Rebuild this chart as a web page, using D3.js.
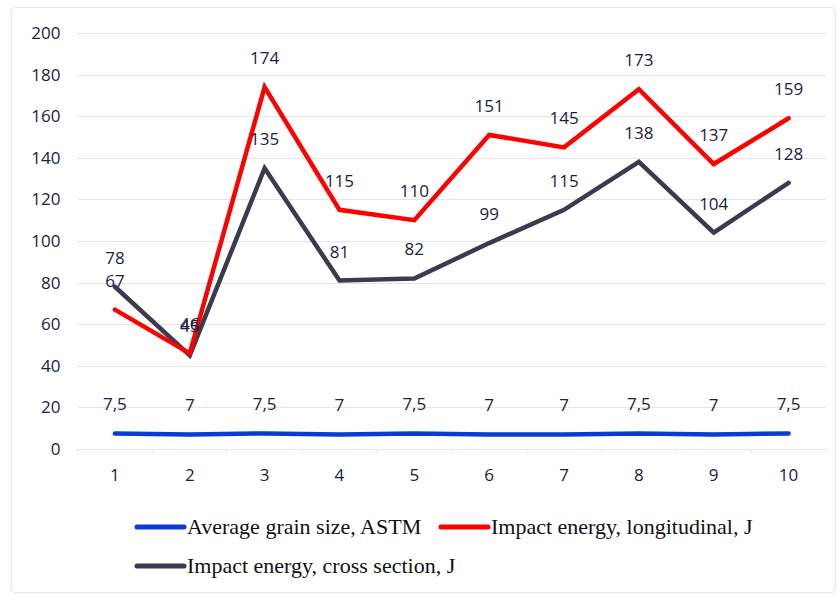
<!DOCTYPE html>
<html>
<head>
<meta charset="utf-8">
<script src="https://cdn.jsdelivr.net/npm/d3@7"></script>
<style>
  html, body { margin: 0; padding: 0; background: #ffffff; }
  svg { display: block; }
</style>
</head>
<body>
<svg id="chart" width="839" height="595"></svg>
<script>
const categories = ["1", "2", "3", "4", "5", "6", "7", "8", "9", "10"];
const grainSize = [7.5, 7, 7.5, 7, 7.5, 7, 7, 7.5, 7, 7.5];
const impactLongitudinal = [67, 46, 174, 115, 110, 151, 145, 173, 137, 159];
const impactCross = [78, 45, 135, 81, 82, 99, 115, 138, 104, 128];
const yTicks = [0, 20, 40, 60, 80, 100, 120, 140, 160, 180, 200];

const seriesNames = ["Average grain size, ASTM", "Impact energy, longitudinal, J", "Impact energy, cross section, J"];
const seriesColors = ["#0a3bd6", "#ff0000", "#3b3b4e"];

const series = [
  { name: seriesNames[0], values: grainSize, color: seriesColors[0] },
  { name: seriesNames[1], values: impactLongitudinal, color: seriesColors[1] },
  { name: seriesNames[2], values: impactCross, color: seriesColors[2] }
];

const svg = d3.select("#chart");
const sans = "'Open Sans', 'Noto Sans', sans-serif";
const labelColor = "#1b2142";

// chart frame
svg.append("rect")
  .attr("x", 11.5).attr("y", 7.5)
  .attr("width", 824).attr("height", 585)
  .attr("rx", 4)
  .attr("fill", "#ffffff")
  .attr("stroke", "#e3e6ee")
  .attr("stroke-width", 1);

const plot = { left: 77.5, right: 826, top: 33, bottom: 449 };

const x = d3.scaleBand().domain(categories).range([plot.left, plot.right]);
const y = d3.scaleLinear().domain([0, 200]).range([plot.bottom, plot.top]);
const cx = c => x(c) + x.bandwidth() / 2;

// gridlines
svg.append("g")
  .selectAll("line")
  .data(yTicks)
  .join("line")
  .attr("x1", plot.left).attr("x2", plot.right)
  .attr("y1", d => Math.round(y(d)) + 0.5).attr("y2", d => Math.round(y(d)) + 0.5)
  .attr("stroke", "#e1e5ef")
  .attr("stroke-width", 1.2);

// y axis labels
const yAxis = d3.axisLeft(y).tickValues(yTicks).tickSize(0).tickPadding(0);
const gy = svg.append("g").attr("transform", `translate(${plot.left - 17},0)`).call(yAxis);
gy.select(".domain").remove();
gy.selectAll("text")
  .attr("font-family", sans)
  .attr("font-size", 17)
  .attr("fill", labelColor);

// x axis labels
const xAxis = d3.axisBottom(x).tickSize(0).tickPadding(0);
const gx = svg.append("g").attr("transform", `translate(0,${plot.bottom + 20})`).call(xAxis);
gx.select(".domain").remove();
gx.selectAll("text")
  .attr("font-family", sans)
  .attr("font-size", 17)
  .attr("fill", labelColor);

// small tick marks on baseline
svg.append("g")
  .selectAll("line")
  .data(categories.concat(["end"]))
  .join("line")
  .attr("x1", (d, i) => plot.left + i * x.bandwidth())
  .attr("x2", (d, i) => plot.left + i * x.bandwidth())
  .attr("y1", plot.bottom).attr("y2", plot.bottom + 4)
  .attr("stroke", "#e1e5ef");

// lines
const line = d3.line()
  .x((d, i) => cx(categories[i]))
  .y(d => y(d));

const drawOrder = [0, 2, 1];
drawOrder.forEach(k => {
  const s = series[k];
  svg.append("path")
    .datum(s.values)
    .attr("d", line)
    .attr("fill", "none")
    .attr("stroke", s.color)
    .attr("stroke-width", 4.5)
    .attr("stroke-linejoin", "miter")
    .attr("stroke-linecap", "round");
});

// data labels
const fmt = v => String(v).replace(".", ",");
series.forEach(s => {
  svg.append("g")
    .selectAll("text")
    .data(s.values)
    .join("text")
    .attr("x", (d, i) => cx(categories[i]))
    .attr("y", d => y(d) - 23)
    .attr("text-anchor", "middle")
    .attr("font-family", sans)
    .attr("font-size", 17)
    .attr("fill", labelColor)
    .text(d => fmt(d));
});

// legend
const legendItems = [
  { name: seriesNames[0], color: seriesColors[0], lx: 137, ly: 527 },
  { name: seriesNames[1], color: seriesColors[1], lx: 441, ly: 527 },
  { name: seriesNames[2], color: seriesColors[2], lx: 137, ly: 566 }
];
const lg = svg.append("g");
legendItems.forEach(it => {
  lg.append("line")
    .attr("x1", it.lx).attr("x2", it.lx + 47)
    .attr("y1", it.ly).attr("y2", it.ly)
    .attr("stroke", it.color)
    .attr("stroke-width", 5)
    .attr("stroke-linecap", "round");
  lg.append("text")
    .attr("x", it.lx + 50)
    .attr("y", it.ly + 7)
    .attr("font-family", "'Liberation Serif', 'DejaVu Serif', serif")
    .attr("font-size", 22)
    .attr("fill", "#111111")
    .text(it.name);
});
</script>
</body>
</html>
